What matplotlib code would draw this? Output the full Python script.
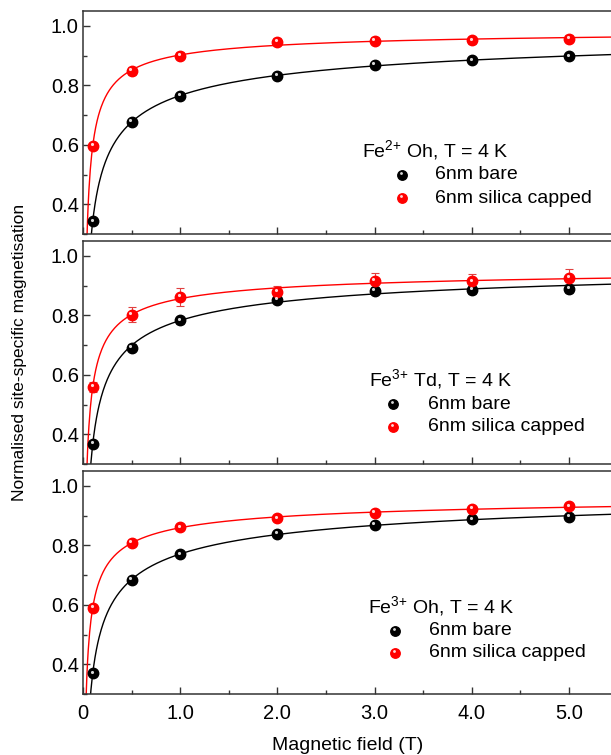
import numpy as np
import matplotlib
matplotlib.use('Agg')
import matplotlib.pyplot as plt
import matplotlib.transforms as mtransforms
from matplotlib.ticker import MultipleLocator, FuncFormatter

plt.rcParams['font.family'] = ['Liberation Sans', 'DejaVu Sans']
plt.rcParams['mathtext.fontset'] = 'custom'
plt.rcParams['mathtext.rm'] = 'Liberation Sans'

field = np.array([0.1, 0.5, 1.0, 2.0, 3.0, 4.0, 5.0])

# Fe2+ Oh
oh2_bare = [0.343, 0.678, 0.764, 0.833, 0.868, 0.884, 0.898]
oh2_bare_err = [0.006, 0.006, 0.006, 0.006, 0.006, 0.006, 0.006]
oh2_cap = [0.597, 0.848, 0.900, 0.946, 0.950, 0.951, 0.957]
oh2_cap_err = [0.010, 0.012, 0.012, 0.012, 0.012, 0.012, 0.012]

# Fe3+ Td
td3_bare = [0.368, 0.691, 0.783, 0.853, 0.883, 0.886, 0.890]
td3_bare_err = [0.010, 0.012, 0.012, 0.012, 0.012, 0.014, 0.014]
td3_cap = [0.559, 0.802, 0.862, 0.878, 0.916, 0.914, 0.927]
td3_cap_err = [0.016, 0.025, 0.029, 0.020, 0.025, 0.025, 0.028]

# Fe3+ Oh
oh3_bare = [0.370, 0.683, 0.770, 0.839, 0.870, 0.887, 0.896]
oh3_bare_err = [0.008, 0.008, 0.008, 0.010, 0.010, 0.010, 0.010]
oh3_cap = [0.590, 0.809, 0.861, 0.891, 0.909, 0.923, 0.931]
oh3_cap_err = [0.010, 0.010, 0.010, 0.010, 0.010, 0.010, 0.010]

titles = [r'Fe$^{\mathrm{2{+}}}$ Oh, T = 4 K',
          r'Fe$^{\mathrm{3{+}}}$ Td, T = 4 K',
          r'Fe$^{\mathrm{3{+}}}$ Oh, T = 4 K']
labels = ['6nm bare', '6nm silica capped']
panels = [(oh2_bare, oh2_bare_err, oh2_cap, oh2_cap_err),
          (td3_bare, td3_bare_err, td3_cap, td3_cap_err),
          (oh3_bare, oh3_bare_err, oh3_cap, oh3_cap_err)]

# legend placement per panel (axes fraction): title x, marker x, text x, title y, row ys
legend_pos = [(0.528, 0.604, 0.667, 0.372, (0.265, 0.161)),
              (0.542, 0.587, 0.653, 0.377, (0.269, 0.166)),
              (0.540, 0.591, 0.655, 0.390, (0.283, 0.184))]


def fit_curve(x, y):
    # approach to saturation: M = Ms - a * H^-n, best n on a grid
    best = None
    for n in np.arange(0.2, 1.5, 0.01):
        A = np.column_stack([np.ones_like(x), -x ** (-n)])
        coef, _, _, _ = np.linalg.lstsq(A, np.asarray(y), rcond=None)
        err = np.sum((A @ coef - y) ** 2)
        if best is None or err < best[0]:
            best = (err, n, coef)
    _, n, (ms, a) = best
    xx = np.linspace(0.005, 5.6, 800)
    return xx, ms - a * xx ** (-n)


def sphere(ax, x, y, col, transform, ms=7.5, **kw):
    ax.plot(x, y, 'o', color=col, ms=ms, mec=col, transform=transform, **kw)
    hl = mtransforms.offset_copy(transform, fig=ax.figure, x=-0.8, y=1.2, units='points')
    z = kw.pop('zorder', 4) + 1
    ax.plot(x, y, 'o', color='white', ms=ms * 0.3, mew=0, alpha=0.85,
            transform=hl, zorder=z, **kw)


W, H = 611, 755
fig = plt.figure(figsize=(W / 100, H / 100), dpi=100)
left = 83 / W
tops = [11, 241, 471]
ax_h = 223
xmax = (W - 83) / 97.2

spine_col = '#333333'
colors = ['black', 'red']
ecolors = ['#555555', '#e04040']
for i, (top, title, data, lp) in enumerate(zip(tops, titles, panels, legend_pos)):
    ax = fig.add_axes([left, 1 - (top + ax_h) / H, 1 - left, ax_h / H])
    ax.set_xlim(0, xmax)
    ax.set_ylim(0.3, 1.05)

    for k in range(2):
        y, err = data[2 * k], data[2 * k + 1]
        xx, yy = fit_curve(field, y)
        ax.plot(xx, yy, color=colors[k], lw=1.0, zorder=2)
        ax.errorbar(field, y, yerr=err, fmt='none', ecolor=ecolors[k], elinewidth=0.8,
                    capsize=3, capthick=0.8, zorder=3)
        sphere(ax, field, y, colors[k], ax.transData, zorder=4)

    # legend drawn by hand
    tx, mx, lx, ty, rows = lp
    ax.text(tx, ty, title, transform=ax.transAxes, fontsize=14, va='center', ha='left')
    for k in range(2):
        sphere(ax, [mx], [rows[k]], colors[k], ax.transAxes, ms=6.8, zorder=6, clip_on=False)
        ax.text(lx, rows[k], labels[k], transform=ax.transAxes, fontsize=14,
                va='center', ha='left')

    ax.xaxis.set_major_locator(MultipleLocator(1.0))
    ax.xaxis.set_minor_locator(MultipleLocator(0.5))
    ax.yaxis.set_major_locator(MultipleLocator(0.2))
    ax.yaxis.set_minor_locator(MultipleLocator(0.1))
    ax.tick_params(which='both', direction='in', top=False, right=False,
                   width=1.0, color=spine_col, labelsize=14.5)
    ax.tick_params(which='major', length=5)
    ax.tick_params(which='minor', length=3)
    ax.tick_params(axis='x', pad=7)
    ax.tick_params(axis='y', pad=3)
    ax.yaxis.set_major_formatter(FuncFormatter(lambda v, p: '%.1f' % v))
    if i < 2:
        ax.tick_params(axis='x', labelbottom=False)
    else:
        ax.xaxis.set_major_formatter(FuncFormatter(lambda v, p: '0' if abs(v) < 1e-9 else '%.1f' % v))
    for s in ax.spines.values():
        s.set_color(spine_col)
        s.set_linewidth(1.1)
    ax.spines['right'].set_visible(False)

fig.text(20 / W, 1 - 352 / H, 'Normalised site-specific magnetisation', rotation=90,
         ha='center', va='center', fontsize=12.5)
fig.text(348 / W, 1 - 745 / H, 'Magnetic field (T)', ha='center', va='center', fontsize=14)

fig.savefig('out.png', dpi=100)
